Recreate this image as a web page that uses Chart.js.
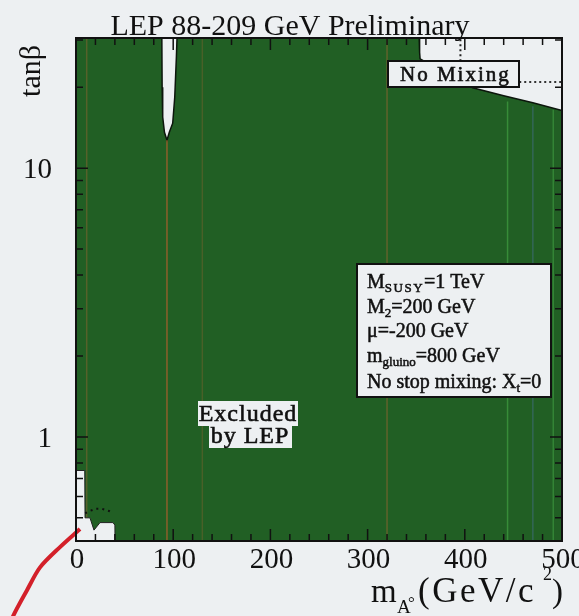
<!DOCTYPE html>
<html><head><meta charset="utf-8">
<script src="https://cdn.jsdelivr.net/npm/chart.js@4/dist/chart.umd.min.js"></script>
<style>html,body{margin:0;padding:0;background:#edf0f2;overflow:hidden}canvas{display:block}</style>
</head><body>
<canvas id="c" width="579" height="616"></canvas>
<script>
// ---- data ----
const xTickValues = [0, 100, 200, 300, 400, 500];
const xTickLabels = ['0', '100', '200', '300', '400', '500'];
const yTickValues = [1, 10];
const yTickLabels = ['1', '10'];
const yMinorTicks = [0.5, 0.6, 0.7, 0.8, 0.9, 2, 3, 4, 5, 6, 7, 8, 9, 20, 30];
// upper edge of the LEP excluded region (m_A, tanβ)
const edgeX = [0, 88.3, 88.6, 89.2, 91, 93.6, 96, 99.5, 101.6, 103.3, 104, 353, 353.5, 354, 408, 440, 470, 500];
const edgeY = [31, 31, 20, 15.5, 13.6, 12.7, 13.6, 14.7, 18.4, 26, 31, 31, 27, 25.5, 19.9, 18.6, 17.5, 16.4];
// allowed hole at low m_A, low tanβ
const holeX = [0, 9, 9.3, 14.4, 18.5, 24.7, 38, 40, 40.2];
const holeY = [0.75, 0.75, 0.5, 0.5, 0.45, 0.48, 0.48, 0.47, 0.4];
// dotted expected-limit pieces
const dotLowX = [9.5, 14, 20, 27, 34, 38.5];
const dotLowY = [0.52, 0.53, 0.54, 0.54, 0.53, 0.52];
const dotVX = [395.5, 395.5];
const dotVY = [25, 31];
const dotHX = [456, 500];
const dotHY = [20.9, 20.9];
// theoretically inaccessible boundary (red), drawn outside the frame
const redX = [4.1, -16.5, -37, -50.4, -64.8, -76];
const redY = [0.454, 0.389, 0.327, 0.269, 0.215, 0.17];
// faint vertical scan streaks inside the green
const scanX = [11, 93.6, 130, 320, 444, 470, 491];
const scanTop = [31, 12.7, 31, 31, 17.7, 17.0, 16.5];
const scanColors = ['rgba(150,100,50,0.45)', 'rgba(160,95,45,0.85)', 'rgba(150,100,50,0.35)', 'rgba(150,100,50,0.55)', 'rgba(70,170,70,0.6)', 'rgba(70,110,140,0.5)', 'rgba(70,170,70,0.5)'];

const Y_MIN = 0.41, Y_MAX = 30.5;
const BG = '#edf0f2';
const GREEN = '#215f24';
const SERIF = '"Liberation Serif","DejaVu Serif",serif';

const pts = (xs, ys) => xs.map((x, i) => ({x: x, y: ys[i]}));

const datasets = [];
datasets.push({label: 'red', data: pts(redX, redY), borderColor: '#d3202a', borderWidth: 4, pointRadius: 0, fill: false, clip: false, order: 1, tension: 0.3});
datasets.push({label: 'dotLow', data: pts(dotLowX, dotLowY), borderColor: '#111', borderWidth: 2, borderDash: [2, 4], pointRadius: 0, fill: false, order: 2});
datasets.push({label: 'dotV', data: pts(dotVX, dotVY), borderColor: '#222', borderWidth: 2, borderDash: [2, 3], pointRadius: 0, fill: false, order: 2});
datasets.push({label: 'dotH', data: pts(dotHX, dotHY), borderColor: '#333', borderWidth: 2, borderDash: [2, 3], pointRadius: 0, fill: false, order: 2});
datasets.push({label: 'hole', data: pts(holeX, holeY), borderColor: '#222', borderWidth: 1, backgroundColor: BG, pointRadius: 0, fill: 'start', order: 3});
scanX.forEach((x, i) => {
  datasets.push({label: 'scan' + i, data: pts([x, x], [Y_MIN, scanTop[i]]), borderColor: scanColors[i], borderWidth: 1.5, pointRadius: 0, fill: false, order: 4});
});
datasets.push({label: 'excluded', data: pts(edgeX, edgeY), borderColor: '#0c160c', borderWidth: 1.5, backgroundColor: GREEN, pointRadius: 0, fill: 'start', order: 5});

function rich(ctx, x, y, parts, heavy) {
  for (const p of parts) {
    ctx.font = p.s + 'px ' + SERIF;
    ctx.letterSpacing = (p.ls || 0) + 'px';
    const px = (p.x !== undefined) ? p.x : x;
    ctx.fillText(p.t, px, y + (p.dy || 0));
    if (heavy) { ctx.lineWidth = heavy; ctx.strokeText(p.t, px, y + (p.dy || 0)); }
    x = px + ctx.measureText(p.t).width;
  }
  ctx.letterSpacing = '0px';
  return x;
}

const decor = {
  id: 'decor',
  afterDatasetsDraw(chart) {
    const ctx = chart.ctx, a = chart.chartArea;
    const xs = chart.scales.x, ys = chart.scales.y;
    ctx.save();
    ctx.fillStyle = '#111';
    ctx.strokeStyle = '#111';
    // ticks (inward)
    ctx.lineWidth = 1.5;
    ctx.beginPath();
    for (let v = 0; v <= 500; v += 20) {
      const px = xs.getPixelForValue(v);
      const len = (v % 100 === 0) ? 12 : 7;
      ctx.moveTo(px, a.bottom); ctx.lineTo(px, a.bottom - len);
      ctx.moveTo(px, a.top); ctx.lineTo(px, a.top + len);
    }
    yTickValues.concat(yMinorTicks).forEach(v => {
      const py = ys.getPixelForValue(v);
      const len = yTickValues.includes(v) ? 12 : 7;
      ctx.moveTo(a.left, py); ctx.lineTo(a.left + len, py);
      ctx.moveTo(a.right, py); ctx.lineTo(a.right - len, py);
    });
    ctx.stroke();
    // frame
    ctx.lineWidth = 2;
    ctx.strokeRect(a.left, a.top, a.right - a.left, a.bottom - a.top);

    // tick labels
    ctx.font = '29px ' + SERIF;
    ctx.textBaseline = 'alphabetic';
    ctx.textAlign = 'center';
    xTickValues.forEach((v, i) => ctx.fillText(xTickLabels[i], xs.getPixelForValue(v) + 1, 568));
    ctx.textAlign = 'right';
    yTickValues.forEach((v, i) => ctx.fillText(yTickLabels[i], 52, ys.getPixelForValue(v) + 10));

    // title
    ctx.textAlign = 'center';
    ctx.font = '30px ' + SERIF;
    ctx.fillText('LEP 88-209 GeV Preliminary', 290, 35);

    // y title
    ctx.save();
    ctx.translate(40, 71);
    ctx.rotate(-Math.PI / 2);
    ctx.font = '30px ' + SERIF;
    ctx.fillText('tan\u03B2', 0, 0);
    ctx.restore();

    // x title
    ctx.textAlign = 'left';
    rich(ctx, 371, 602, [{t: 'm', s: 33}]);
    rich(ctx, 397, 613, [{t: 'A', s: 19}]);
    rich(ctx, 408, 608, [{t: '\u00B0', s: 17}]);
    rich(ctx, 418, 602, [{t: '(GeV/c', s: 35, ls: 2.5}]);
    rich(ctx, 543, 580, [{t: '2', s: 18}]);
    rich(ctx, 552, 602, [{t: ')', s: 33}]);

    // "No Mixing" box
    ctx.fillStyle = BG;
    ctx.fillRect(388, 61, 131, 26);
    ctx.lineWidth = 2;
    ctx.strokeRect(388, 61, 131, 26);
    ctx.fillStyle = '#111';
    rich(ctx, 400, 81, [{t: 'No Mixing', s: 21, ls: 2}], 0.6);

    // parameter box
    ctx.fillStyle = BG;
    ctx.lineWidth = 2;
    ctx.fillRect(357, 264, 194, 133);
    ctx.strokeRect(357, 264, 194, 133);
    ctx.fillStyle = '#111';
    rich(ctx, 367, 288, [{t: 'M', s: 20}, {t: 'SUSY', s: 13, dy: 4, ls: 1.5}, {t: '=1 TeV', s: 20}], 0.5);
    rich(ctx, 367, 313, [{t: 'M', s: 20}, {t: '2', s: 13, dy: 4}, {t: '=200 GeV', s: 20}], 0.5);
    rich(ctx, 367, 337, [{t: '\u03BC=-200 GeV', s: 20}], 0.5);
    rich(ctx, 367, 362, [{t: 'm', s: 20}, {t: 'gluino', s: 13, dy: 4}, {t: '=800 GeV', s: 20}], 0.5);
    rich(ctx, 367, 388, [{t: 'No stop mixing: X', s: 20}, {t: 't', s: 13, dy: 4}, {t: '=0', s: 20}], 0.5);

    // "Excluded by LEP"
    ctx.fillStyle = BG;
    ctx.fillRect(198, 401, 100, 25);
    ctx.fillRect(209, 426, 83, 22);
    ctx.fillStyle = '#111';
    ctx.textAlign = 'center';
    ctx.font = '24px ' + SERIF;
    ctx.letterSpacing = '1px';
    ctx.lineWidth = 0.6;
    ctx.fillText('Excluded', 248, 421);
    ctx.strokeText('Excluded', 248, 421);
    ctx.fillText('by LEP', 250, 443);
    ctx.strokeText('by LEP', 250, 443);
    ctx.letterSpacing = '0px';
    ctx.restore();
  }
};

new Chart(document.getElementById('c'), {
  type: 'line',
  data: {datasets: datasets},
  options: {
    responsive: false,
    animation: false,
    devicePixelRatio: 1,
    layout: {padding: {left: 76, right: 17, top: 38, bottom: 75}},
    plugins: {legend: {display: false}, tooltip: {enabled: false}},
    elements: {line: {tension: 0}},
    scales: {
      x: {type: 'linear', min: 0, max: 500, display: false},
      y: {type: 'logarithmic', min: Y_MIN, max: Y_MAX, display: false}
    }
  },
  plugins: [decor]
});
</script>
</body></html>
